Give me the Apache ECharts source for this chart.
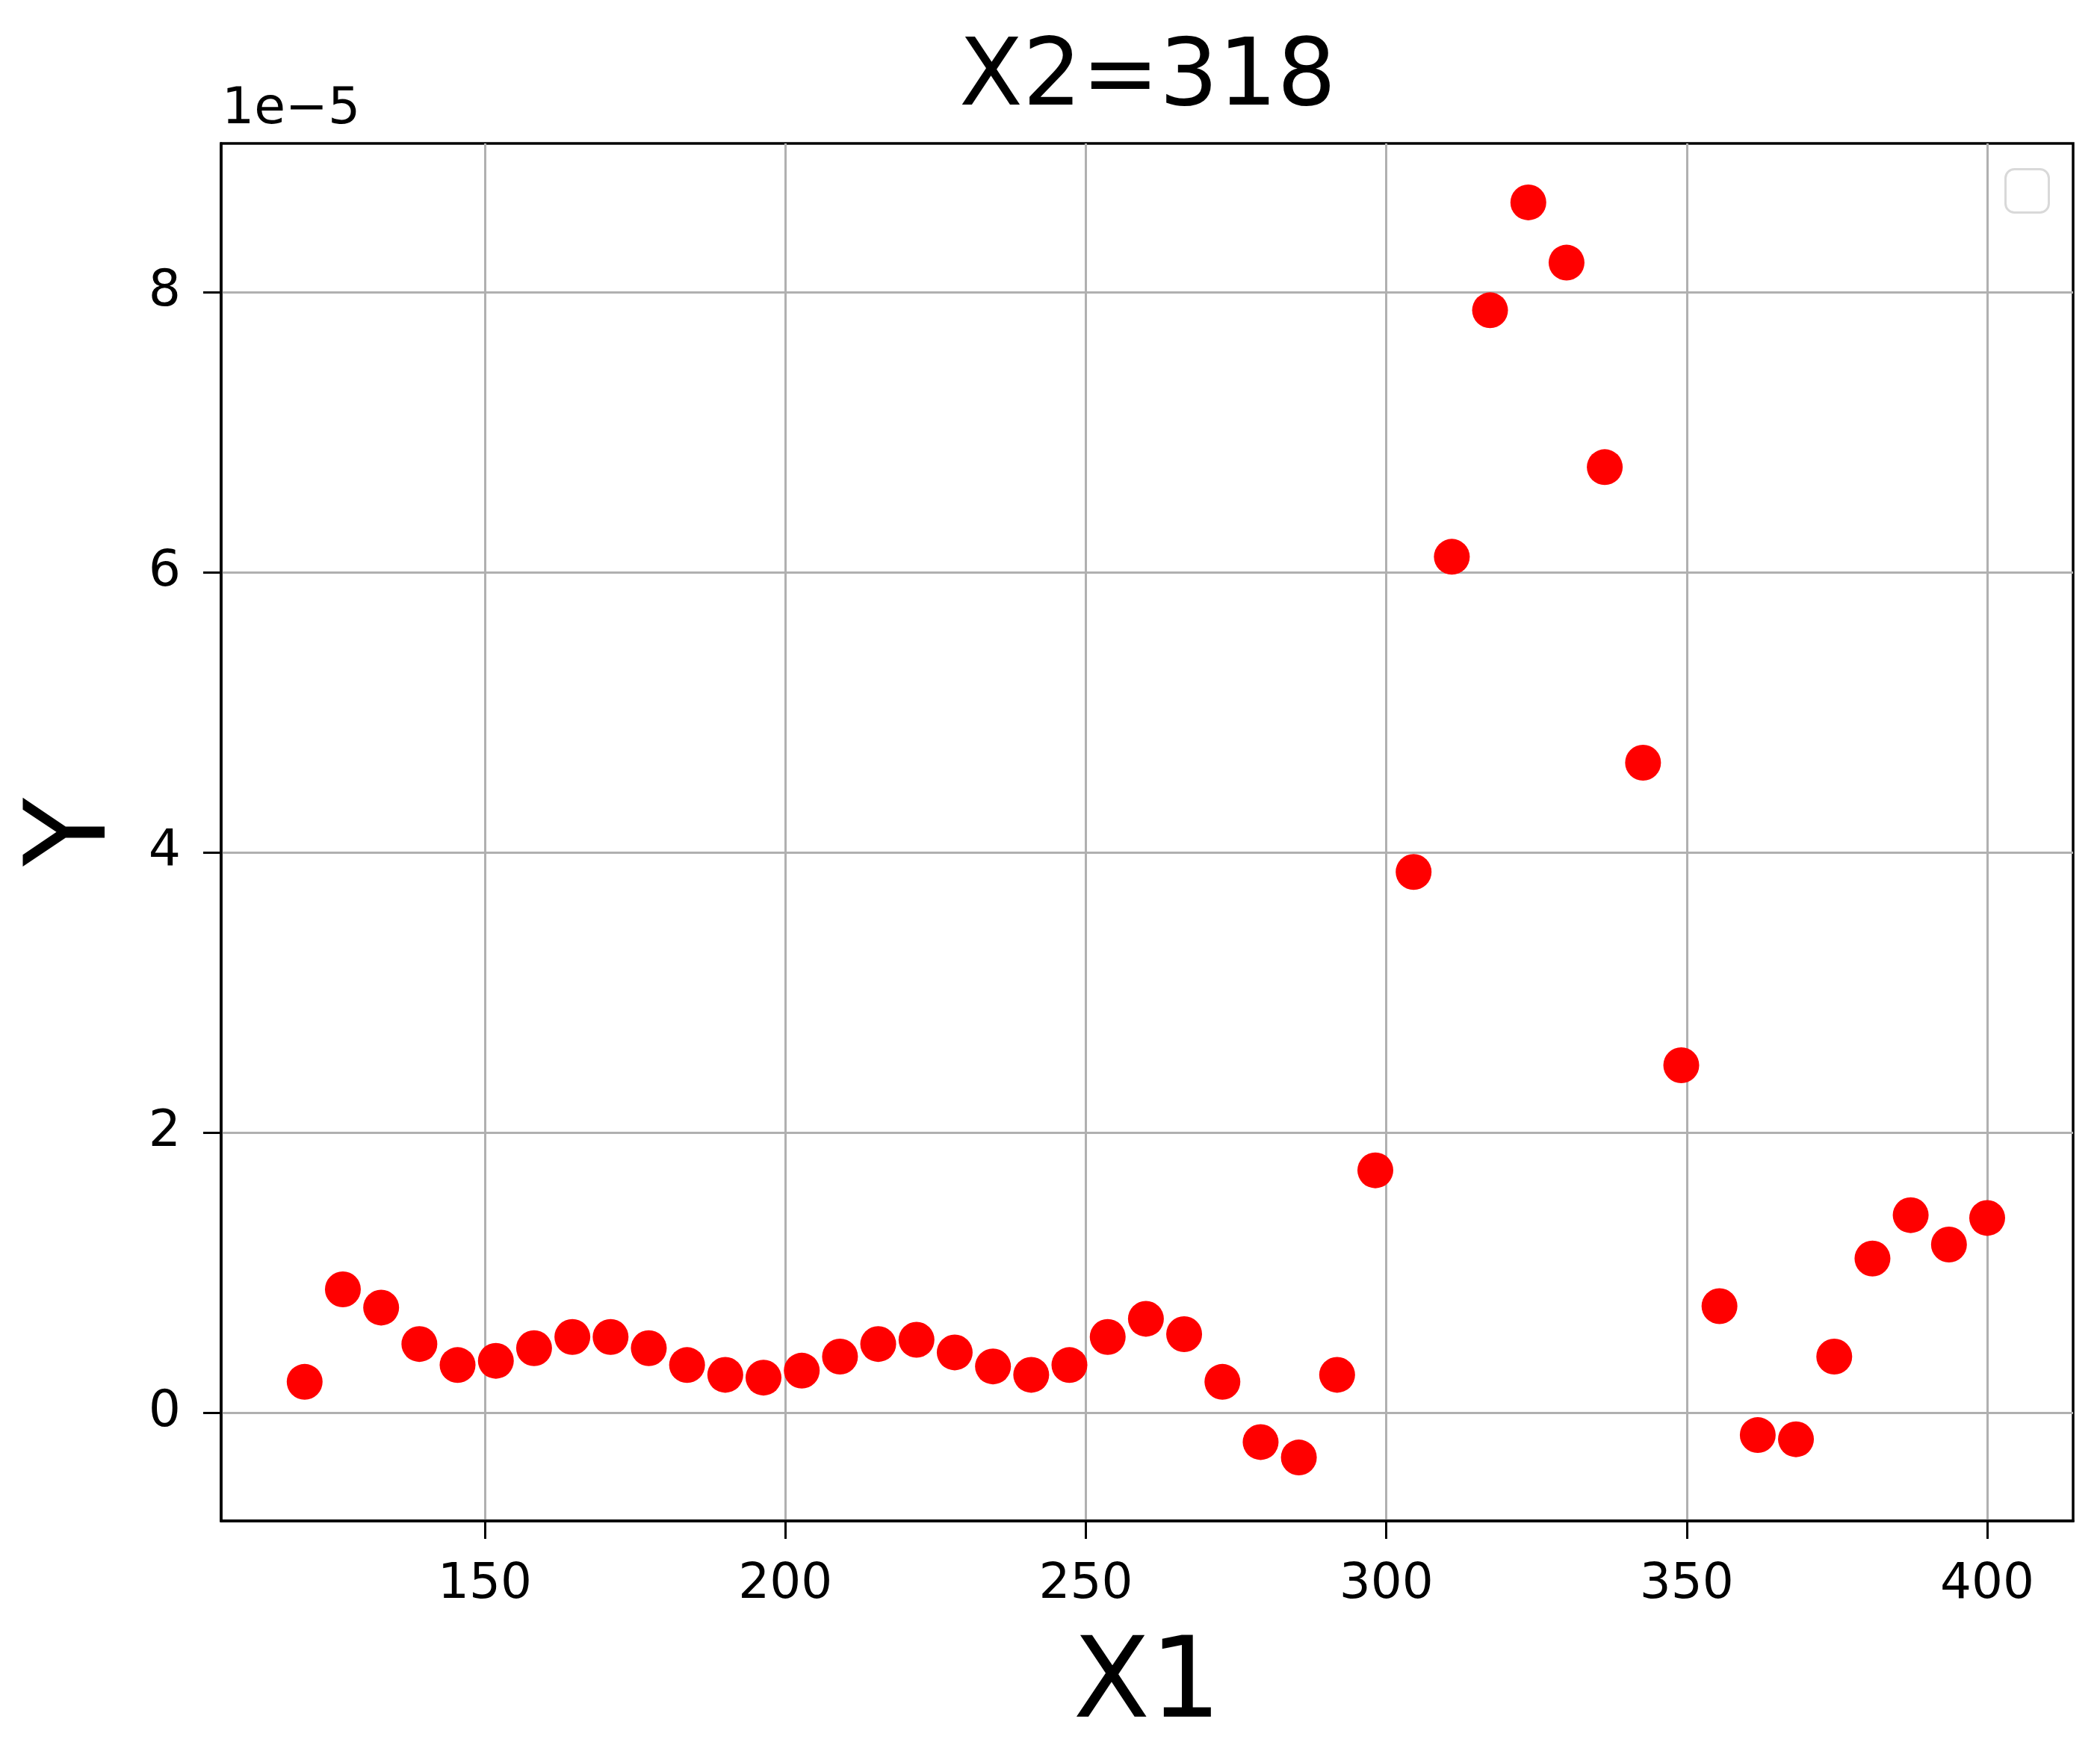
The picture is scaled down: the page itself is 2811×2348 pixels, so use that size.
<!DOCTYPE html>
<html>
<head>
<meta charset="utf-8">
<script src="https://cdn.jsdelivr.net/npm/echarts@6/dist/echarts.min.js"></script>
<style>
html,body{margin:0;padding:0;background:#fff;}
#chart{width:2811px;height:2348px;}
</style>
</head>
<body>
<div id="chart"></div>
<script>
// ---- data ----
const chartTitle = 'X2=318';
const xName = 'X1';
const yName = 'Y';
const yExponentLabel = '1e\u22125';
const xValues = [120, 126.36, 132.73, 139.09, 145.45, 151.82, 158.18, 164.55, 170.91, 177.27,
  183.64, 190, 196.36, 202.73, 209.09, 215.45, 221.82, 228.18, 234.55, 240.91,
  247.27, 253.64, 260, 266.36, 272.73, 279.09, 285.45, 291.82, 298.18, 304.55,
  310.91, 317.27, 323.64, 330, 336.36, 342.73, 349.09, 355.45, 361.82, 368.18,
  374.55, 380.91, 387.27, 393.64, 400];
const yValues = [0.22e-5, 0.88e-5, 0.75e-5, 0.49e-5, 0.34e-5, 0.37e-5, 0.46e-5, 0.54e-5, 0.54e-5, 0.46e-5,
  0.34e-5, 0.27e-5, 0.25e-5, 0.30e-5, 0.40e-5, 0.49e-5, 0.52e-5, 0.43e-5, 0.33e-5, 0.27e-5,
  0.34e-5, 0.54e-5, 0.67e-5, 0.56e-5, 0.22e-5, -0.21e-5, -0.32e-5, 0.27e-5, 1.73e-5, 3.86e-5,
  6.11e-5, 7.87e-5, 8.64e-5, 8.21e-5, 6.75e-5, 4.64e-5, 2.48e-5, 0.76e-5, -0.16e-5, -0.19e-5,
  0.40e-5, 1.10e-5, 1.41e-5, 1.20e-5, 1.39e-5];
const xTicks = [150, 200, 250, 300, 350, 400];
const yTicks = [0, 2e-5, 4e-5, 6e-5, 8e-5];
const xRange = [106.1, 414.3];
const yRange = [-0.773e-5, 9.061e-5];

const points = xValues.map((x, i) => [x, yValues[i]]);
const FONT = 'DejaVu Sans';

const chart = echarts.init(document.getElementById('chart'), null, {renderer: 'canvas'});
chart.setOption({
  backgroundColor: '#ffffff',
  animation: false,
  title: [
    {text: chartTitle, left: 1284, top: 46, padding: 0,
     textStyle: {fontFamily: FONT, fontSize: 124, fontWeight: 'normal', color: '#000'}},
    {text: yExponentLabel, left: 297, top: 113, padding: 0,
     textStyle: {fontFamily: FONT, fontSize: 68, fontWeight: 'normal', color: '#000'}}
  ],
  grid: {left: 296, right: 36, top: 192, bottom: 312, show: true,
         outerBoundsMode: 'none', containLabel: false,
         borderColor: '#000', borderWidth: 3.5, backgroundColor: 'transparent'},
  xAxis: {
    type: 'value', min: xRange[0], max: xRange[1],
    name: xName, nameLocation: 'middle', nameGap: 148,
    nameTextStyle: {fontFamily: FONT, fontSize: 150, color: '#000'},
    axisLine: {show: true, onZero: false, lineStyle: {color: '#000', width: 3.5}},
    axisTick: {show: true, inside: false, length: 24, customValues: xTicks,
               lineStyle: {color: '#000', width: 3}},
    axisLabel: {show: true, customValues: xTicks, margin: 53, fontFamily: FONT, fontSize: 66, color: '#000',
                formatter: v => String(Math.round(v))},
    splitLine: {show: true, lineStyle: {color: '#b0b0b0', width: 3}}
  },
  yAxis: {
    type: 'value', min: yRange[0], max: yRange[1],
    name: yName, nameLocation: 'middle', nameGap: 120, nameRotate: 90,
    nameTextStyle: {fontFamily: FONT, fontSize: 150, color: '#000'},
    axisLine: {show: true, onZero: false, lineStyle: {color: '#000', width: 3.5}},
    axisTick: {show: true, inside: false, length: 24, customValues: yTicks,
               lineStyle: {color: '#000', width: 3}},
    axisLabel: {show: true, customValues: yTicks, margin: 54, fontFamily: FONT, fontSize: 68, color: '#000',
                formatter: v => String(Math.round(v * 1e5))},
    splitLine: {show: true, lineStyle: {color: '#b0b0b0', width: 3}}
  },
  graphic: [{
    type: 'rect', left: 2683, top: 225, z: 10,
    shape: {width: 58, height: 58, r: 12},
    style: {fill: '#ffffff', stroke: '#d9d9d9', lineWidth: 3}
  }],
  series: [{
    type: 'scatter', data: points, symbol: 'circle', symbolSize: 48,
    itemStyle: {color: '#ff0000', opacity: 1}, z: 5
  }]
});
</script>
</body>
</html>
